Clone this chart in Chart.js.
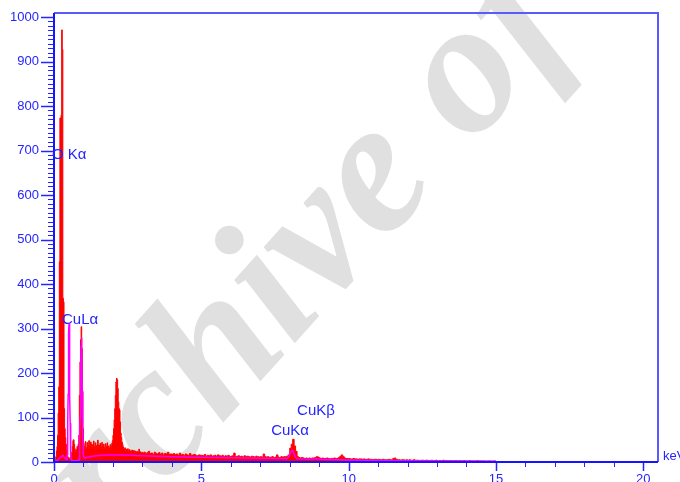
<!DOCTYPE html>
<html><head><meta charset="utf-8">
<script src="https://cdn.jsdelivr.net/npm/chart.js@4.4.1/dist/chart.umd.min.js"></script>
<style>html,body{margin:0;padding:0;background:#fff;overflow:hidden;}</style>
</head><body>
<canvas id="c" width="680" height="482"></canvas>
<script>
// ---- DATA ----
// measured spectrum, counts per channel: fine channels from 0 keV (0.02 keV wide)
const fineStartKeV = 0.0;
const fineChannelKeV = 0.02;
const countsFine = [
  0, 2, 5, 12, 25, 35, 60, 110, 169, 450,
  773, 773, 780, 971, 927, 368, 360, 120, 75, 55,
  40, 25, 18, 12, 10, 8, 8, 10, 12, 15,
  22, 35, 48, 50, 40, 30, 25, 22, 28, 35,
  32, 40, 60, 150, 225, 275, 304, 255, 160, 75,
  42, 35, 30, 46, 33, 29, 44, 31, 38, 48,
  30, 36, 45, 32, 40, 34, 29, 47, 35, 31,
  43, 30, 37, 33, 49, 32, 38, 28, 42, 34,
  31, 44, 36, 30, 40, 33, 29, 41, 35, 30,
  43, 29, 36, 32, 28, 39, 31, 35, 42, 48,
  60, 75, 95, 120, 150, 180, 188, 185, 165, 135,
  120, 117, 90, 65, 55, 45, 40, 34, 30, 28,
  32, 26, 29, 24, 27, 30, 23, 26, 28, 22,
  25, 21, 27, 24, 20, 26, 22, 25, 19, 23,
  21, 24, 20, 22, 29, 19, 23, 21, 18, 22
];
// coarser channels from 3 keV (0.05 keV wide)
const coarseStartKeV = 3.0;
const coarseChannelKeV = 0.05;
const countsCoarse = [
  20, 22, 18, 21, 24, 19, 20, 17, 22, 19, 18, 21, 17, 20, 16, 19, 18, 22, 17, 18,
  17, 19, 16, 18, 15, 20, 16, 17, 14, 18, 16, 15, 19, 14, 16, 17, 15, 14, 16, 15,
  15, 14, 17, 13, 15, 14, 16, 13, 14, 15, 13, 16, 14, 13, 15, 12, 14, 13, 15, 12,
  13, 14, 20, 12, 13, 14, 12, 13, 11, 14, 12, 13, 12, 11, 13, 12, 11, 13, 12, 11,
  12, 11, 18, 12, 11, 12, 10, 11, 12, 10, 11, 16, 11, 10, 12, 11, 12, 12, 13, 16,
  31, 40, 51, 36, 24, 12, 10, 9, 10, 9, 8, 9, 8, 9, 8, 9, 9, 10, 12, 11,
  9, 8, 9, 8, 8, 9, 8, 7, 8, 8, 9, 8, 8, 10, 13, 16, 12, 9, 8, 8,
  8, 7, 7, 8, 7, 7, 6, 7, 7, 6, 7, 6, 6, 7, 6, 6, 5, 6, 6, 5,
  6, 5, 5, 6, 5, 5, 5, 6, 5, 5, 8, 9, 6, 5, 5, 4, 5, 5, 4, 5,
  4, 5, 4, 4, 5, 4, 4, 4, 3, 4, 4, 3, 4, 4, 3, 3, 4, 3, 3, 4,
  3, 3, 3, 3, 4, 3, 3, 2, 3, 3, 3, 2, 3, 3, 2, 3, 2, 2, 3, 2,
  2, 2, 3, 2, 2, 2, 2, 3, 2, 2, 2, 2, 2, 1, 2, 2, 2, 1, 2, 2
];
const spectrumEndKeV = 15.0;

// fitted / reference curve (magenta)
const fitEnergy = [
  0.00, 0.10, 0.20, 0.30, 0.40, 0.44, 0.45, 0.46, 0.47, 0.48, 0.49, 0.50, 0.51,
  0.52, 0.53, 0.54, 0.55, 0.56, 0.57, 0.58, 0.60, 0.70, 0.80, 0.85,
  0.86, 0.87, 0.88, 0.89, 0.90, 0.91, 0.92, 0.93, 0.94, 0.95, 0.96, 0.97, 0.98, 0.99,
  1.00, 1.02, 1.05, 1.10, 1.30, 1.60, 1.90, 2.20, 2.60, 3.00, 3.50, 4.00, 5.00, 6.00,
  7.00, 7.90, 7.95, 8.00, 8.05, 8.10, 8.15, 8.20, 8.25, 8.80, 8.90, 8.95, 9.00,
  10.0, 11.0, 12.0, 13.0, 14.0, 15.0
];
const fitCounts = [
  0, 3, 10, 15, 6, 6, 17, 42, 87, 152, 226, 288, 312,
  288, 226, 152, 87, 42, 17, 6, 3, 3, 3, 5,
  12, 28, 57, 100, 157, 216, 262, 279, 262, 216, 157, 100, 57, 28,
  14, 10, 9, 10, 13, 15, 16, 16, 15, 14, 13, 12, 10.5, 9.5,
  8.5, 8, 10, 16, 24, 26, 18, 10, 7.5, 6.5, 8, 7.5, 6,
  4.5, 3.5, 3, 2.5, 2, 1.5
];

const xTickLabels = [0, 5, 10, 15, 20];
const yTickLabels = [0, 100, 200, 300, 400, 500, 600, 700, 800, 900, 1000];
const xUnit = 'keV';
const peakNames = ['O Kα', 'CuLα', 'CuKα', 'CuKβ'];

// ---- build library data ----
const spectrumPts = [];
countsFine.forEach((c, i) => spectrumPts.push({x: fineStartKeV + i * fineChannelKeV, y: c}));
countsCoarse.forEach((c, i) => spectrumPts.push({x: coarseStartKeV + i * coarseChannelKeV, y: c}));
spectrumPts.push({x: spectrumEndKeV, y: 0});
const fitPts = fitEnergy.map((e, i) => ({x: e, y: fitCounts[i]}));

// annotation anchors (data coordinates: keV, counts)
const peakAnchors = [
  {name: peakNames[0], e: -0.07, c: 690},
  {name: peakNames[1], e: 0.27, c: 319},
  {name: peakNames[2], e: 7.37, c: 70},
  {name: peakNames[3], e: 8.25, c: 115}
];

const BLUE = 'rgb(36,36,255)';
const FONT = '"Liberation Sans", Arial, sans-serif';

const deco = {
  id: 'deco',
  beforeDraw(chart) {
    const ctx = chart.ctx;
    ctx.save();
    ctx.fillStyle = '#ffffff';
    ctx.fillRect(0, 0, chart.width, chart.height);
    // watermark
    ctx.translate(30, 637);
    ctx.rotate(-48 * Math.PI / 180);
    ctx.font = 'italic bold 190px "Liberation Serif", serif';
    ctx.fillStyle = '#e0e0e0';
    ctx.textBaseline = 'alphabetic';
    ctx.fillText('Archive of SID', 0, 0);
    ctx.restore();
  },
  afterDatasetsDraw(chart) {
    const ctx = chart.ctx, xs = chart.scales.x, ys = chart.scales.y, a = chart.chartArea;
    ctx.save();
    // frame: top/right lighter
    ctx.strokeStyle = 'rgb(90,90,255)';
    ctx.lineWidth = 2;
    ctx.beginPath();
    ctx.moveTo(a.left, a.top); ctx.lineTo(a.right, a.top); ctx.lineTo(a.right, a.bottom);
    ctx.stroke();
    // y ticks
    ctx.strokeStyle = BLUE;
    const yMaxTick = yTickLabels[yTickLabels.length - 1];
    const yStep = yTickLabels[1] - yTickLabels[0];
    for (let v = 0; v <= yMaxTick; v += yStep / 10) {
      const y = Math.round(ys.getPixelForValue(v)) + 0.5;
      const major = Math.abs(v / yStep - Math.round(v / yStep)) < 1e-6;
      ctx.lineWidth = major ? 1.5 : 1;
      ctx.beginPath();
      ctx.moveTo(a.left - (major ? 13 : 6), y); ctx.lineTo(a.left, y);
      ctx.stroke();
    }
    // x ticks
    const xMaxTick = xTickLabels[xTickLabels.length - 1];
    const xStep = xTickLabels[1] - xTickLabels[0];
    for (let v = 0; v <= xMaxTick; v += xStep / 5) {
      const x = Math.round(xs.getPixelForValue(v)) + 0.5;
      const major = Math.abs(v / xStep - Math.round(v / xStep)) < 1e-6;
      ctx.lineWidth = major ? 1.5 : 1;
      ctx.beginPath();
      ctx.moveTo(x, a.bottom); ctx.lineTo(x, a.bottom + (major ? 9 : 5));
      ctx.stroke();
    }
    // axes (left & bottom)
    ctx.strokeStyle = 'rgb(20,20,255)';
    ctx.lineWidth = 2;
    ctx.beginPath();
    ctx.moveTo(a.left, a.top); ctx.lineTo(a.left, a.bottom); ctx.lineTo(a.right, a.bottom);
    ctx.stroke();
    // tick labels
    ctx.fillStyle = BLUE;
    ctx.font = '13px ' + FONT;
    ctx.textAlign = 'right'; ctx.textBaseline = 'middle';
    yTickLabels.forEach(v => ctx.fillText(String(v), a.left - 15, ys.getPixelForValue(v)));
    ctx.textAlign = 'center'; ctx.textBaseline = 'top';
    xTickLabels.forEach(v => ctx.fillText(String(v), xs.getPixelForValue(v), a.bottom + 11));
    // unit
    ctx.textAlign = 'left'; ctx.textBaseline = 'middle';
    ctx.fillText(xUnit, a.right + 5, a.bottom - 6);
    // peak labels
    ctx.font = '15px ' + FONT;
    peakAnchors.forEach(p => ctx.fillText(p.name, xs.getPixelForValue(p.e), ys.getPixelForValue(p.c)));
    ctx.restore();
  }
};

new Chart(document.getElementById('c'), {
  type: 'scatter',
  data: {
    datasets: [
      {label: 'Spectrum', data: spectrumPts, showLine: true, stepped: true, fill: 'origin',
       backgroundColor: '#ff0000', borderColor: '#ff0000', borderWidth: 1, pointRadius: 0, order: 2},
      {label: 'Fit', data: fitPts, showLine: true, fill: false, tension: 0,
       borderColor: '#ff00ff', borderWidth: 1.5, pointRadius: 0, order: 1}
    ]
  },
  options: {
    responsive: false, animation: false, devicePixelRatio: 1,
    layout: {padding: {top: 13, right: 22, left: 0, bottom: 0}},
    plugins: {legend: {display: false}, tooltip: {enabled: false}},
    scales: {
      x: {type: 'linear', min: 0, max: 20.5, ticks: {display: false}, grid: {display: false},
          border: {display: false}, afterFit(s) { s.height = 20; }},
      y: {type: 'linear', min: 0, max: 1009, ticks: {display: false}, grid: {display: false},
          border: {display: false}, afterFit(s) { s.width = 54; }}
    }
  },
  plugins: [deco]
});
</script>
</body></html>
